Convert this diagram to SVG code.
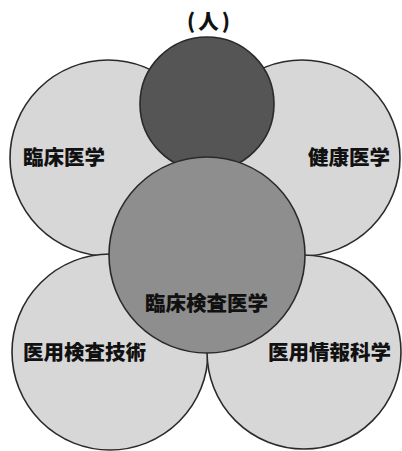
<svg xmlns="http://www.w3.org/2000/svg" width="402" height="451" viewBox="0 0 402 451">
<style>
.light{fill:#d7d7d7;stroke:#2a2a2a;stroke-width:1.6}
.dark{fill:#555555;stroke:#2a2a2a;stroke-width:1.6}
.mid{fill:#8e8e8e;stroke:#2a2a2a;stroke-width:1.6}
.lbl{font-family:"Noto Sans CJK JP","Noto Sans CJK SC",sans-serif;font-weight:900;font-size:20.5px;fill:#111111}
</style>
<rect width="402" height="451" fill="#ffffff"/>
<g id="connectors"></g>
<g id="rinsho-igaku"><circle class="light" cx="108" cy="158" r="98"/></g>
<g id="kenko-igaku"><circle class="light" cx="302" cy="158" r="98"/></g>
<g id="iyo-kensa-gijutsu"><circle class="light" cx="110" cy="352" r="98"/></g>
<g id="iyo-joho-kagaku"><circle class="light" cx="304" cy="352" r="97"/></g>
<g id="hito"><circle class="dark" cx="207" cy="104" r="67"/></g>
<g id="rinsho-kensa-igaku"><circle class="mid" cx="207" cy="255" r="98"/></g>
<g id="labels">
<text class="lbl" x="210" y="29" text-anchor="middle" letter-spacing="3">(人)</text>
<text class="lbl" x="23" y="165">臨床医学</text>
<text class="lbl" x="308" y="165">健康医学</text>
<text class="lbl" x="145" y="311">臨床検査医学</text>
<text class="lbl" x="23" y="360">医用検査技術</text>
<text class="lbl" x="268" y="360">医用情報科学</text>
</g>
</svg>
